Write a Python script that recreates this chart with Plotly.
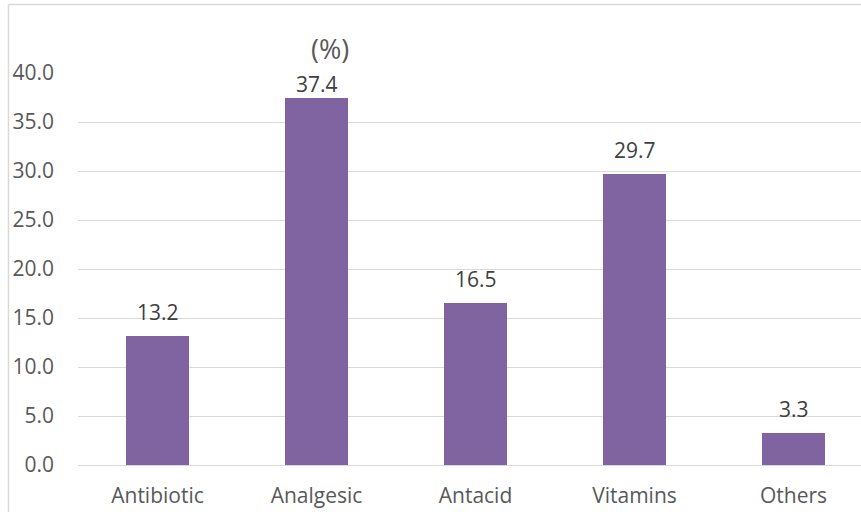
import plotly.graph_objects as go

categories = ["Antibiotic", "Analgesic", "Antacid", "Vitamins", "Others"]
values = [13.2, 37.4, 16.5, 29.7, 3.3]
y_ticks = [0, 5, 10, 15, 20, 25, 30, 35, 40]
y_tick_labels = ["0.0", "5.0", "10.0", "15.0", "20.0", "25.0", "30.0", "35.0", "40.0"]

FONT = "Open Sans"
GRAY = "#595959"
GRID = "#D9D9D9"

fig = go.Figure()
fig.add_trace(go.Bar(
    x=list(range(len(categories))), y=values,
    marker=dict(color="#8064A2", line=dict(width=0)),
    width=0.40, hoverinfo="skip",
))

ymax = 40
plot_l, plot_r, plot_t, plot_b = 78, 861, 73, 465
pw, ph = plot_r - plot_l, plot_b - plot_t
px_per_unit = ph / ymax

def px_x(p):
    return (p - plot_l) / pw

def px_y(p):
    return (plot_b - p) / ph

annotations = []
for i, v in enumerate(values):
    ylab = min(v + 24 / px_per_unit, ymax - 11 / px_per_unit)
    annotations.append(dict(
        x=i, y=ylab, xref="x", yref="y", text=f"{v:.1f}", showarrow=False,
        font=dict(family=FONT, size=21, color="#404040"),
        xanchor="center", yanchor="middle",
    ))
annotations.append(dict(
    x=px_x(329.5), y=px_y(49), xref="paper", yref="paper", text="(%)", showarrow=False,
    font=dict(family=FONT, size=27, color=GRAY), xanchor="center", yanchor="middle",
))

shapes = [
    dict(type="line", xref="paper", yref="paper", x0=px_x(8.5), x1=px_x(861), y0=px_y(4.5), y1=px_y(4.5),
         line=dict(color=GRID, width=1.5)),
    dict(type="line", xref="paper", yref="paper", x0=px_x(8.5), x1=px_x(8.5), y0=px_y(4.5), y1=px_y(512),
         line=dict(color=GRID, width=1.5)),
]

fig.update_layout(
    width=861, height=512,
    margin=dict(l=plot_l, r=0, t=plot_t, b=512 - plot_b, pad=0),
    paper_bgcolor="white", plot_bgcolor="white",
    showlegend=False,
    annotations=annotations,
    shapes=shapes,
    bargap=0,
    xaxis=dict(
        range=[-0.5, -0.5 + pw / 159.0], tickmode="array",
        tickvals=list(range(len(categories))), ticktext=categories,
        showgrid=False, zeroline=False, showline=False, ticks="",
        tickfont=dict(family=FONT, size=21, color=GRAY),
        ticklabelstandoff=16, fixedrange=True,
    ),
    yaxis=dict(
        range=[0, ymax], tickmode="array", tickvals=y_ticks, ticktext=y_tick_labels,
        showgrid=True, gridcolor=GRID, gridwidth=1.3, zeroline=True, zerolinecolor=GRID,
        zerolinewidth=1.3, showline=False, ticks="",
        tickfont=dict(family=FONT, size=21, color=GRAY),
        ticklabelstandoff=23, fixedrange=True,
    ),
)

fig.write_html("out.html")
